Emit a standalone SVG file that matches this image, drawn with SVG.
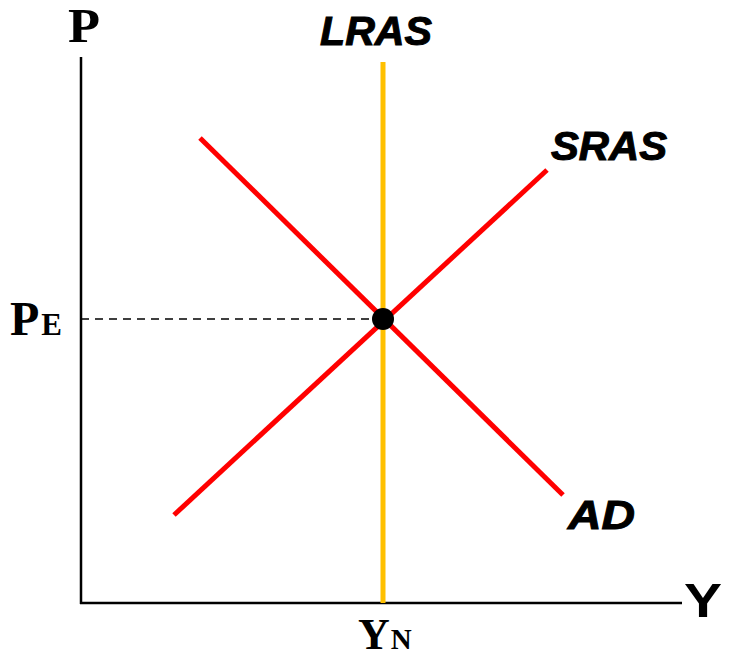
<svg xmlns="http://www.w3.org/2000/svg" width="730" height="660" viewBox="0 0 730 660">
<style>
.axis{stroke:#000;stroke-width:2.5;fill:none}
.curve{stroke:#FF0000;stroke-width:5;fill:none}
.lras{stroke:#FFC000;stroke-width:5;fill:none}
.lbl{font-family:"Liberation Sans",Arial,sans-serif;font-weight:bold;font-style:italic;font-size:40px;fill:#000;stroke:#000;stroke-width:1}
.serif{font-family:"Liberation Serif","Times New Roman",serif;font-weight:bold;fill:#000}
.sans{font-family:"Liberation Sans",Arial,sans-serif;font-weight:bold;fill:#000}
</style>
<rect width="730" height="660" fill="#fff"/>
<g id="axes">
<line class="axis" x1="81" y1="57" x2="81" y2="604"/>
<line class="axis" x1="80" y1="603" x2="682" y2="603"/>
</g>
<g id="connectors">
<line x1="81" y1="319" x2="372" y2="319" stroke="#000" stroke-width="1.5" stroke-dasharray="8,6"/>
</g>
<g id="LRAS">
<line class="lras" x1="383" y1="62" x2="383" y2="603"/>
<text class="lbl" x="320" y="45" textLength="112" lengthAdjust="spacingAndGlyphs">LRAS</text>
</g>
<g id="SRAS">
<line class="curve" x1="174" y1="515" x2="547" y2="170"/>
<text class="lbl" x="551" y="160" textLength="116" lengthAdjust="spacingAndGlyphs">SRAS</text>
</g>
<g id="AD">
<line class="curve" x1="200" y1="138" x2="563" y2="495"/>
<text class="lbl" x="568" y="529" textLength="67" lengthAdjust="spacingAndGlyphs">AD</text>
</g>
<g id="equilibrium">
<circle cx="383" cy="319" r="11" fill="#000"/>
</g>
<g id="labels">
<text class="serif" x="68" y="42" font-size="48" textLength="32" lengthAdjust="spacingAndGlyphs">P</text>
<text class="serif" x="10" y="335" font-size="48">P<tspan font-size="31" dx="2">E</tspan></text>
<text class="sans" x="684" y="617" font-size="48" textLength="38" lengthAdjust="spacingAndGlyphs">Y</text>
<text class="serif" x="358" y="649" font-size="44">Y<tspan font-size="29" dx="1">N</tspan></text>
</g>
</svg>
